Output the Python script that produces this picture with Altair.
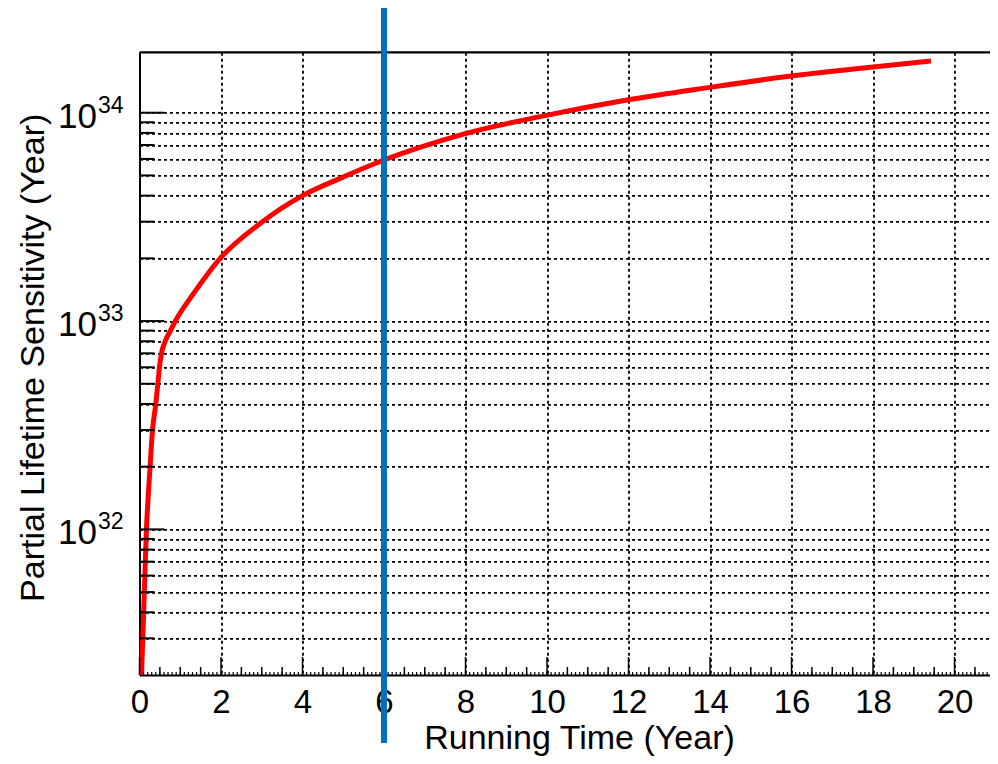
import altair as alt
import pandas as pd

# ---- data ----
run_time = [0.05, 0.17, 0.26, 0.32, 0.40, 0.45, 0.49, 0.54, 0.63, 0.76, 0.88, 1.32,
            1.98, 2.96, 4.0, 4.92, 6.0, 6.88, 7.95, 9.95, 11.96, 13.96, 15.94, 17.94, 19.42]
sensitivity = [2.0e31, 1.0e32, 2.0e32, 3.0e32, 4.0e32, 5.0e32, 6.0e32, 7.0e32, 8.0e32,
               9.0e32, 1.0e33, 1.35e33, 2.0e33, 2.94e33, 4.0e33, 4.84e33, 5.93e33,
               6.82e33, 7.9e33, 9.68e33, 1.15e34, 1.32e34, 1.496e34, 1.653e34, 1.77e34]
marker_year = [6.0]

x_major_ticks = [0, 2, 4, 6, 8, 10, 12, 14, 16, 18, 20]
x_mid_ticks = [i * 0.5 for i in range(0, 42) if i % 4 != 0]
x_small_ticks = [round(i * 0.1, 1) for i in range(0, 209)]
y_major_ticks = [1e32, 1e33, 1e34]
y_exponents = ["32", "33", "34"]
y_minor_ticks = [3e31, 4e31, 5e31, 6e31, 7e31, 8e31, 9e31,
                 2e32, 3e32, 4e32, 5e32, 6e32, 7e32, 8e32, 9e32,
                 2e33, 3e33, 4e33, 5e33, 6e33, 7e33, 8e33, 9e33]

x_title = "Running Time (Year)"
y_title = "Partial Lifetime Sensitivity (Year)"

W = 850.5
H = 622.7
FONT = "Liberation Sans"

xscale = alt.Scale(domain=[0, 20.87], nice=False, zero=False)
yscale = alt.Scale(type="log", domain=[2e31, 1.95e34], nice=False)

curve_df = pd.DataFrame({"t": run_time, "v": sensitivity})
grid_y_values = sorted(y_minor_ticks + y_major_ticks)

x_axis = alt.Axis(
    values=x_major_ticks, grid=True, gridColor="black", gridDash=[3, 3], gridWidth=1.8,
    gridOpacity=1, ticks=False, tickSize=0, domain=True, domainColor="black", domainWidth=2,
    labelFont=FONT, labelFontSize=33, labelColor="black", labelPadding=37,
    labelBaseline="alphabetic", labelFlush=False, labelOverlap=False,
    title=x_title, titleFont=FONT, titleFontSize=34, titleFontWeight="normal",
    titleColor="black", titleX=439.5, titleY=73.5, titleAlign="center",
    titleBaseline="alphabetic", titleAnchor="start")
y_axis = alt.Axis(
    values=grid_y_values, grid=True, gridColor="black", gridDash=[3, 3], gridWidth=1.8,
    gridOpacity=1, ticks=False, tickSize=0, labels=False, domain=True,
    domainColor="black", domainWidth=2,
    title=y_title, titleFont=FONT, titleFontSize=34, titleFontWeight="normal",
    titleColor="black", titleAngle=270, titleX=-96.5, titleY=305,
    titleAlign="center", titleBaseline="alphabetic", titleAnchor="start")

X = alt.X("t:Q", scale=xscale, axis=x_axis)
Y = alt.Y("v:Q", scale=yscale, axis=y_axis)

curve = alt.Chart(curve_df).mark_line(color="#FF0000", strokeWidth=5,
                                      interpolate="monotone", clip=True).encode(x=X, y=Y)

def xrules(vals, length, width):
    return alt.Chart(pd.DataFrame({"t": vals})).mark_rule(color="black", strokeWidth=width).encode(
        x=X, y=alt.value(H), y2=alt.value(H - length))

def yrules(vals, length, width):
    return alt.Chart(pd.DataFrame({"v": vals})).mark_rule(color="black", strokeWidth=width).encode(
        y=Y, x=alt.value(0), x2=alt.value(length))

top_frame = alt.Chart(pd.DataFrame({"t": [0]})).mark_rule(color="black", strokeWidth=2.2).encode(
    x=alt.value(0), x2=alt.value(W), y=alt.value(0))

lab_df = pd.DataFrame({"v": y_major_ticks, "e": y_exponents})
ten = alt.Chart(lab_df).mark_text(align="right", baseline="alphabetic", dy=15, font=FONT,
                                  fontSize=35, color="black").encode(
    y=Y, x=alt.value(-42.5), text=alt.value("10"))
expo = alt.Chart(lab_df).mark_text(align="left", baseline="alphabetic", dy=0, font=FONT,
                                   fontSize=23, color="black").encode(
    y=Y, x=alt.value(-41.5), text="e:N")

marker = alt.Chart(pd.DataFrame({"t": marker_year})).mark_rule(
    color="#0070C0", strokeWidth=6, clip=False).encode(
    x=X, y=alt.value(-44.3), y2=alt.value(690.7))

chart = alt.layer(
    curve,
    xrules(x_small_ticks, 3, 1.2),
    xrules(x_mid_ticks, 8, 1.5),
    xrules(x_major_ticks, 18, 1.5),
    yrules(y_minor_ticks, 15, 2),
    yrules(y_major_ticks, 25, 2),
    top_frame,
    ten,
    expo,
    marker,
).properties(
    width=W, height=H,
    autosize=alt.AutoSizeParams(type="none"),
    padding={"left": 131.5, "top": 44.3, "right": 0, "bottom": 81},
).configure_view(stroke=None)

chart.save("out.html", embed_options={"renderer": "svg", "actions": False})
